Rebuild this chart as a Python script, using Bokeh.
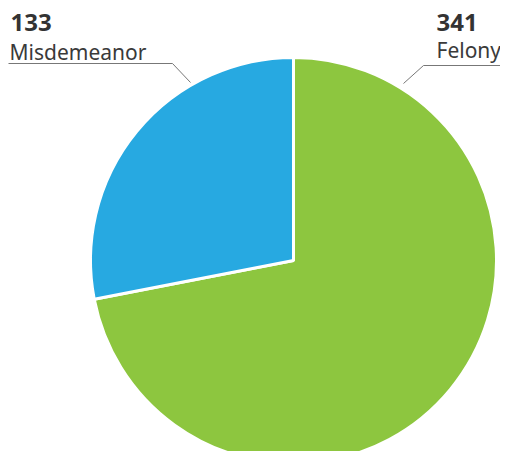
import math
from bokeh.plotting import figure
from bokeh.models import Range1d, ColumnDataSource
from bokeh.core.properties import value
from bokeh.embed import file_html
from bokeh.resources import INLINE

categories = ["Felony", "Misdemeanor"]
counts = [341, 133]
colors = ["#8DC63F", "#27A9E1"]

W, H = 500, 451
p = figure(width=W, height=H, output_backend="svg", toolbar_location=None,
           x_range=Range1d(0, W), y_range=Range1d(-H, 0),
           min_border=0, outline_line_color=None)
p.axis.visible = False
p.grid.visible = False
p.background_fill_color = "white"
p.border_fill_color = "white"

cx, cy, r = 293, -260, 203
total = sum(counts)
starts, ends = [], []
a = math.pi / 2
for c in counts:
    starts.append(a)
    a -= 2 * math.pi * c / total
    ends.append(a)

src = ColumnDataSource(dict(start=starts, end=ends, color=colors, cat=categories))
p.wedge(x=cx, y=cy, radius=r, start_angle="start", end_angle="end",
        direction="clock", fill_color="color", line_color="white", line_width=3,
        source=src)

# leader lines
p.line([8, 172, 190], [-63, -63, -82], line_color="#777777", line_width=1)
p.line([510, 423, 403], [-65, -65, -83], line_color="#777777", line_width=1)

font = value("Noto Sans")
p.text(x=[10], y=[-21.5], text=[str(counts[1])], text_font=font, text_font_size="24px",
       text_font_style="bold", text_color="#333333", text_baseline="alphabetic")
p.text(x=[9], y=[-51], text=[categories[1]], text_font=font, text_font_size="21px",
       text_color="#3a3a3a", text_baseline="alphabetic")
p.text(x=[436], y=[-21.5], text=[str(counts[0])], text_font=font, text_font_size="24px",
       text_font_style="bold", text_color="#333333", text_baseline="alphabetic")
p.text(x=[436], y=[-49], text=[categories[0]], text_font=font, text_font_size="21px",
       text_color="#3a3a3a", text_baseline="alphabetic")

open("out.html", "w").write(file_html(p, INLINE))
